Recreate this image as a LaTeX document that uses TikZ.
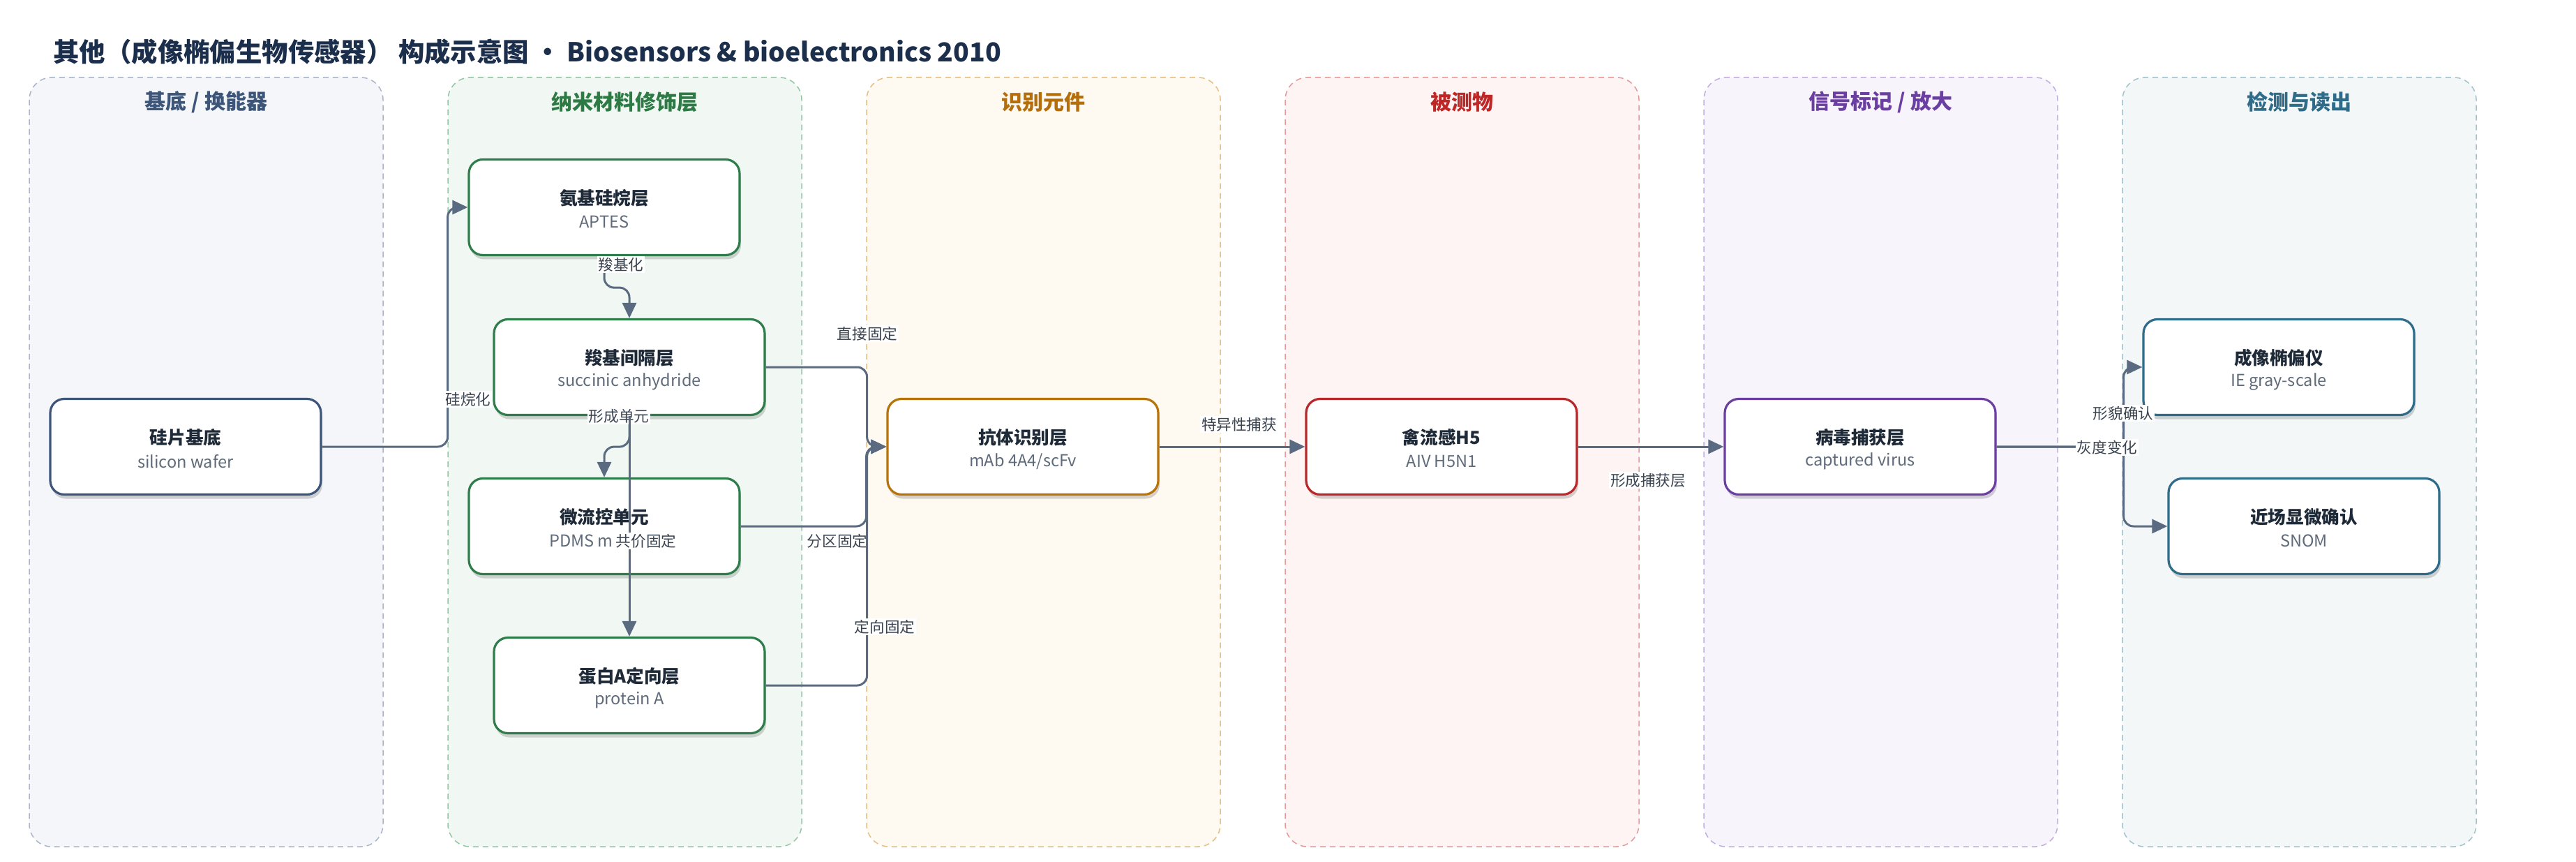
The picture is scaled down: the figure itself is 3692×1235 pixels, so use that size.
\documentclass[tikz,border=0pt]{standalone}
\usepackage{fontspec}
\setmainfont{Noto Sans CJK SC}
\usetikzlibrary{arrows.meta,shadows}

\definecolor{fillA}{HTML}{F5F6FA}\definecolor{bordA}{HTML}{A9B5C9}\definecolor{headA}{HTML}{3C5579}
\definecolor{fillB}{HTML}{F1F8F3}\definecolor{bordB}{HTML}{94C6A4}\definecolor{headB}{HTML}{2D7A45}
\definecolor{fillC}{HTML}{FEF9F1}\definecolor{bordC}{HTML}{E5BE85}\definecolor{headC}{HTML}{B46F0C}
\definecolor{fillD}{HTML}{FEF4F3}\definecolor{bordD}{HTML}{E39A98}\definecolor{headD}{HTML}{BF2626}
\definecolor{fillE}{HTML}{F8F4FC}\definecolor{bordE}{HTML}{C3ACDF}\definecolor{headE}{HTML}{6B3FA2}
\definecolor{fillF}{HTML}{F3F7F8}\definecolor{bordF}{HTML}{A2C2CE}\definecolor{headF}{HTML}{2F6C8A}
\definecolor{nodeA}{HTML}{3C5579}
\definecolor{nodeB}{HTML}{2E7D4A}
\definecolor{nodeC}{HTML}{B87308}
\definecolor{nodeD}{HTML}{B8282A}
\definecolor{nodeE}{HTML}{6B3FA2}
\definecolor{nodeF}{HTML}{2F6C8A}
\definecolor{edgec}{HTML}{5A6A80}
\definecolor{titlec}{HTML}{1B2E4B}
\definecolor{ttlc}{HTML}{1E2A38}
\definecolor{subc}{HTML}{5F6B7A}
\definecolor{lblc}{HTML}{3A4350}

\newcommand{\mybox}[6]{%
  \node[box, draw=#4] (#1) at (#2,#3) {};
  \node[ttl] (#1-t) at ([yshift=6.5pt]#1.center) {#5};
  \node[sub] (#1-s) at ([yshift=-10.5pt]#1.center) {#6};
}

\begin{document}
\begin{tikzpicture}[x=0.5pt,y=-0.5pt,
  lane/.style={dashed, dash pattern=on 4pt off 3pt, line width=0.75pt, rounded corners=16pt},
  head/.style={font=\fontsize{15pt}{18pt}\selectfont\bfseries, inner sep=0pt},
  box/.style={line width=1.6pt, fill=white, rounded corners=10pt, minimum width=194pt, minimum height=68.5pt, inner sep=0pt,
    drop shadow={shadow xshift=1pt, shadow yshift=-3pt, opacity=0.16, fill=black}},
  ttl/.style={font=\fontsize{12.8pt}{15pt}\selectfont\bfseries, text=ttlc, inner sep=0pt},
  sub/.style={font=\fontsize{11.8pt}{14pt}\selectfont, text=subc, inner sep=0pt},
  edge/.style={draw=edgec, line width=1.5pt, rounded corners=7pt, -{Triangle[length=11pt,width=10pt]}},
  lbl/.style={fill=white, inner sep=1pt, font=\fontsize{10.8pt}{12pt}\selectfont, text=lblc}
]
\useasboundingbox[fill=white] (0,0) rectangle (3692,1235);

% title
\node[anchor=west, inner sep=0pt, text=titlec, font=\fontsize{18.7pt}{22pt}\selectfont\bfseries] (title) at (76,74)
  {其他（成像椭偏生物传感器） 构成示意图 • Biosensors \& bioelectronics 2010};

% lanes
\draw[lane, fill=fillA, draw=bordA] (42,111) rectangle (549,1213);
\draw[lane, fill=fillB, draw=bordB] (642,111) rectangle (1149,1213);
\draw[lane, fill=fillC, draw=bordC] (1242,111) rectangle (1749,1213);
\draw[lane, fill=fillD, draw=bordD] (1842,111) rectangle (2349,1213);
\draw[lane, fill=fillE, draw=bordE] (2442,111) rectangle (2949,1213);
\draw[lane, fill=fillF, draw=bordF] (3042,111) rectangle (3549,1213);

\node[head, text=headA] (h1) at (295.5,146) {基底 / 换能器};
\node[head, text=headB] (h2) at (895.5,146) {纳米材料修饰层};
\node[head, text=headC] (h3) at (1495.5,146) {识别元件};
\node[head, text=headD] (h4) at (2095.5,146) {被测物};
\node[head, text=headE] (h5) at (2695.5,146) {信号标记 / 放大};
\node[head, text=headF] (h6) at (3295.5,146) {检测与读出};

% nodes
\mybox{wafer}{266}{640}{nodeA}{硅片基底}{silicon wafer}
\mybox{apt}{866}{297}{nodeB}{氨基硅烷层}{APTES}
\mybox{succ}{902}{526}{nodeB}{羧基间隔层}{succinic anhydride}
\node[box, draw=nodeB] (pdms) at (866,754) {};
\node[ttl] (pdms-t) at ([yshift=6.5pt]pdms.center) {微流控单元};
\node[sub, anchor=east] (pdms-s) at (879,775) {PDMS m};
\mybox{prot}{902}{982}{nodeB}{蛋白A定向层}{protein A}
\mybox{ab}{1466}{640}{nodeC}{抗体识别层}{mAb 4A4/scFv}
\mybox{aiv}{2066}{640}{nodeD}{禽流感H5}{AIV H5N1}
\mybox{virus}{2666}{640}{nodeE}{病毒捕获层}{captured virus}
\mybox{ie}{3266}{526}{nodeF}{成像椭偏仪}{IE gray-scale}
\mybox{snom}{3302}{754}{nodeF}{近场显微确认}{SNOM}

% edges
\draw[edge] (wafer.east) -- ++(180,0) |- (apt.west);
\node[lbl] (l1) at (671,572) {硅烷化};
\draw[edge] (apt.south) -- ++(0,45) -| (succ.north);
\node[lbl] (l2) at (890,379) {羧基化};
\draw[edge] (succ.south) -- ++(0,44) -| (pdms.north);
\node[lbl] (l3) at (887,596) {形成单元};
\draw[edge] (succ.south) -- (prot.north);
\node[lbl] (l4) at (926,775) {共价固定};
\draw[edge] (succ.east) -- ++(145,0) |- (ab.west);
\node[lbl] (l5) at (1243,478) {直接固定};
\draw[edge] (pdms.east) -- ++(180,0) |- (ab.west);
\node[lbl] (l6) at (1200,775) {分区固定};
\draw[edge] (prot.east) -- ++(145,0) |- (ab.west);
\node[lbl] (l7) at (1268,898) {定向固定};
\draw[edge] (ab.east) -- (aiv.west);
\node[lbl] (l8) at (1776,608) {特异性捕获};
\draw[edge] (aiv.east) -- (virus.west);
\node[lbl] (l9) at (2362,688) {形成捕获层};
\draw[edge] (virus.east) -- ++(182,0) |- (ie.west);
\node[lbl] (l10) at (3043,592) {形貌确认};
\draw[edge] (virus.east) -- ++(182,0) |- (snom.west);
\node[lbl] (l11) at (3020,641) {灰度变化};
\end{tikzpicture}
\end{document}
